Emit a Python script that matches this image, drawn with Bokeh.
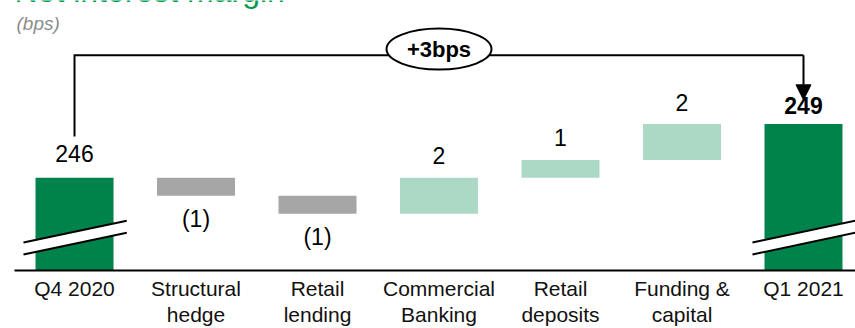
from bokeh.plotting import figure
from bokeh.models import Range1d, FixedTicker, Label, Arrow, NormalHead
from bokeh.embed import file_html
from bokeh.resources import INLINE
from bokeh.core.properties import value

# ---- data ----
categories = ["Q4 2020", "Structural\nhedge", "Retail\nlending", "Commercial\nBanking",
              "Retail\ndeposits", "Funding &\ncapital", "Q1 2021"]
start_nim = 246
end_nim = 249
changes = [-1, -1, 2, 1, 2]

# ---- style ----
FONT = "Liberation Sans"
DARK = "#00834A"
LIGHT = "#ABD9C5"
GREY = "#A6A6A6"
TITLE_GREEN = "#009A4E"
BASE = 240.83      # broken-axis floor
Y_TOP = 255.89

idx = list(range(len(categories)))
bottoms, tops, colors = [BASE], [start_nim], [DARK]
lab_text, lab_y, lab_off = [str(start_nim)], [start_nim], [-24]
level = start_nim
for c in changes:
    new = level + c
    bottoms.append(min(level, new))
    tops.append(max(level, new))
    colors.append(LIGHT if c > 0 else GREY)
    if c > 0:
        lab_text.append(str(c)); lab_y.append(new); lab_off.append(-22)
    else:
        lab_text.append("(%d)" % abs(c)); lab_y.append(new); lab_off.append(23)
    level = new
bottoms.append(BASE); tops.append(end_nim); colors.append(DARK)

p = figure(width=855, height=328, output_backend="svg", toolbar_location=None,
           x_range=Range1d(-0.494, 6.428), y_range=Range1d(BASE, Y_TOP),
           y_axis_location=None, min_border_left=14, min_border_right=0,
           min_border_top=0, min_border_bottom=57,
           background_fill_color="white", border_fill_color="white")
p.outline_line_color = None
p.xgrid.visible = False
p.ygrid.visible = False

ax = p.xaxis[0]
ax.ticker = FixedTicker(ticks=idx)
ax.major_label_overrides = {i: lab for i, lab in enumerate(categories)}
ax.major_label_text_font = FONT
ax.major_label_text_font_size = "21px"
ax.major_label_text_color = "#111111"
ax.major_label_text_line_height = 1.15
ax.major_label_standoff = 6
ax.axis_line_width = 2
ax.axis_line_color = "black"
ax.major_tick_line_color = None
ax.minor_tick_line_color = None
ax.major_tick_out = 0
ax.major_tick_in = 0

p.vbar(x=idx, bottom=bottoms, top=tops, width=0.642, fill_color=colors, line_color=None)

# break marks on the total bars
for i in (0, len(categories) - 1):
    x0, x1 = i - 0.42, i + 0.43
    p.patch([x0, x1, x1, x0], [BASE + 0.89, BASE + 2.11, BASE + 2.78, BASE + 1.56],
            fill_color="white", line_color=None)
    p.multi_line([[x0, x1], [x0, x1]], [[BASE + 0.89, BASE + 2.11], [BASE + 1.56, BASE + 2.78]],
                 line_color="black", line_width=2)

# value labels
p.text(x=idx[:len(lab_text)], y=lab_y, text=lab_text, y_offset=lab_off,
       text_align="center", text_baseline="middle",
       text_font=value(FONT), text_font_size="23px", text_color="black")
p.text(x=[idx[-1]], y=[end_nim], text=[str(end_nim)], y_offset=-19,
       text_align="center", text_baseline="middle", text_font=value(FONT),
       text_font_size="23px", text_font_style="bold", text_color="black")

# bracket with difference
BY = 252.83
left_bottom = start_nim + 2.3
tip = end_nim + 1.35
p.line([idx[0], idx[0], idx[-1]], [left_bottom, BY, BY], line_color="black", line_width=2,
       line_join="miter")
p.add_layout(Arrow(end=NormalHead(size=15, fill_color="black", line_color="black", line_width=1),
                   x_start=idx[-1], y_start=BY, x_end=idx[-1], y_end=tip,
                   line_color="black", line_width=2))
mid = (idx[0] + idx[-1]) / 2
p.ellipse(x=[mid], y=[BY + 0.35], width=105, height=41, width_units="screen",
          height_units="screen", fill_color="white", line_color="black", line_width=2)
p.text(x=[mid], y=[BY + 0.35], text=["+%dbps" % (end_nim - start_nim)], text_align="center",
       text_baseline="middle", text_font=value(FONT), text_font_size="22px",
       text_font_style="bold", text_color="black")

# titles
p.add_layout(Label(x=0, y=280, x_units="screen", y_units="screen", text="Net interest margin",
                   text_font=FONT, text_font_size="32px", text_color=TITLE_GREEN,
                   text_baseline="middle"))
p.add_layout(Label(x=2, y=247, x_units="screen", y_units="screen", text="(bps)",
                   text_font=FONT, text_font_size="19px", text_font_style="italic",
                   text_color="#8C8C8C", text_baseline="middle"))

open("out.html", "w").write(file_html(p, INLINE))
